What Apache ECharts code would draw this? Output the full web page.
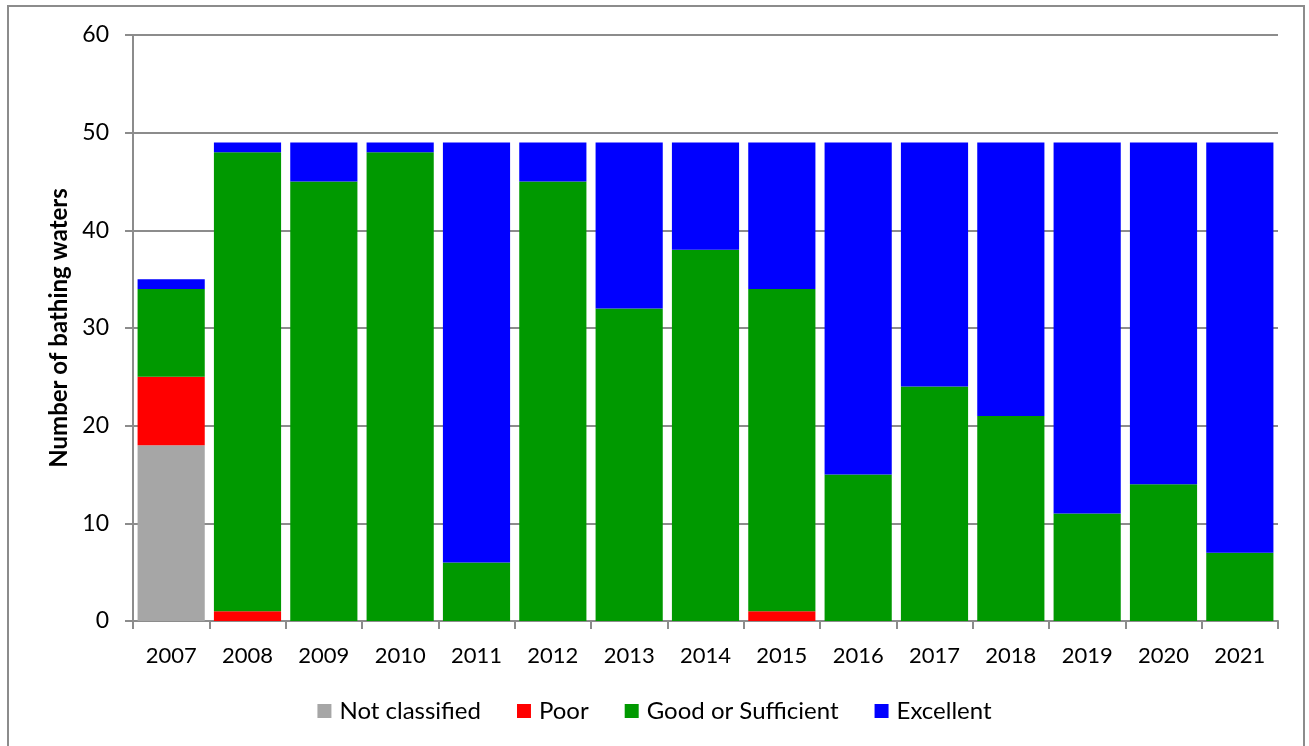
<!DOCTYPE html>
<html>
<head>
<meta charset="utf-8">
<script src="https://cdn.jsdelivr.net/npm/echarts@6/dist/echarts.min.js"></script>
<style>
  html, body { margin: 0; padding: 0; background: #fff; }
  #wrap { position: relative; width: 1309px; height: 746px; overflow: hidden; }
  #frame { position: absolute; left: 7px; top: 5px; width: 1298px; height: 760px; border: 2px solid #8c8c8c; box-sizing: border-box; }
  #chart { position: absolute; left: 0; top: 0; width: 1309px; height: 746px; }
</style>
</head>
<body>
<div id="wrap">
  <div id="frame"></div>
  <div id="chart"></div>
</div>
<script>
const years = ['2007','2008','2009','2010','2011','2012','2013','2014','2015','2016','2017','2018','2019','2020','2021'];
const notClassified = [18, 0, 0, 0, 0, 0, 0, 0, 0, 0, 0, 0, 0, 0, 0];
const poor          = [7, 1, 0, 0, 0, 0, 0, 0, 1, 0, 0, 0, 0, 0, 0];
const goodSufficient= [9, 47, 45, 48, 6, 45, 32, 38, 33, 15, 24, 21, 11, 14, 7];
const excellent     = [1, 1, 4, 1, 43, 4, 17, 11, 15, 34, 25, 28, 38, 35, 42];
const yTicks = { min: 0, max: 60, interval: 10 };

const font = 'Lato, "Open Sans", sans-serif';
const axisGray = '#8c8c8c';

function bar(name, data, color) {
  return {
    name: name, type: 'bar', stack: 'total', data: data,
    barWidth: '88%',
    itemStyle: { color: color },
    emphasis: { disabled: true }
  };
}

const chart = echarts.init(document.getElementById('chart'), null, { renderer: 'canvas' });
chart.setOption({
  animation: false,
  textStyle: { fontFamily: font },
  grid: { left: 133, right: 31, top: 35, bottom: 125, containLabel: false },
  legend: {
    bottom: 18, left: 'center',
    itemWidth: 14, itemHeight: 14, itemGap: 36,
    icon: 'rect',
    textStyle: { fontSize: 24, color: '#000', fontFamily: font, padding: [0, 0, 0, 3] },
    data: ['Not classified', 'Poor', 'Good or Sufficient', 'Excellent']
  },
  xAxis: {
    type: 'category', data: years,
    axisLine: { lineStyle: { color: axisGray, width: 2 } },
    axisTick: { show: true, alignWithLabel: false, length: 8, lineStyle: { color: axisGray, width: 2 } },
    axisLabel: { fontSize: 22, color: '#000', margin: 24, fontFamily: font }
  },
  yAxis: {
    type: 'value', min: yTicks.min, max: yTicks.max, interval: yTicks.interval,
    name: 'Number of bathing waters', nameLocation: 'middle', nameRotate: 90, nameGap: 62,
    nameTextStyle: { fontSize: 24, fontWeight: 'bold', color: '#000', fontFamily: font },
    axisLine: { show: true, lineStyle: { color: axisGray, width: 2 } },
    axisTick: { show: true, length: 8, lineStyle: { color: axisGray, width: 2 } },
    axisLabel: { fontSize: 23, color: '#000', margin: 24, fontFamily: font },
    splitLine: { show: true, lineStyle: { color: axisGray, width: 2 } }
  },
  series: [
    bar('Not classified', notClassified, '#a6a6a6'),
    bar('Poor', poor, '#ff0000'),
    bar('Good or Sufficient', goodSufficient, '#009900'),
    bar('Excellent', excellent, '#0000ff')
  ]
});
</script>
</body>
</html>
